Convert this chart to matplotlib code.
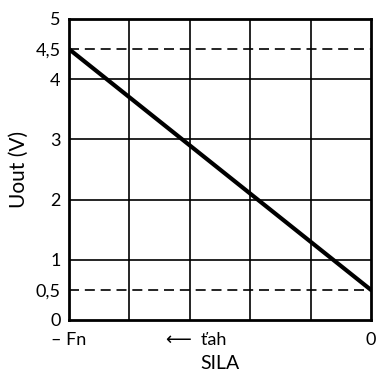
import matplotlib.pyplot as plt

# data
sila = [-5, 0]
uout = [4.5, 0.5]
limity = [0.5, 4.5]
y_ticks = [0, 0.5, 1, 2, 3, 4, 4.5, 5]
y_labels = ['0', '0,5', '1', '2', '3', '4', '4,5', '5']
x_ticks = [-5, -2.9, 0]
x_labels = ['\u2013 Fn', '\u27f5  ťah', '0']

plt.rcParams['font.family'] = ['Lato', 'DejaVu Sans']

fig = plt.figure(figsize=(3.76, 3.76), dpi=100)
ax = fig.add_axes([0.1835, 0.149, 0.803, 0.8005])

# mriezka
for gx in [-4, -3, -2, -1]:
    ax.axvline(gx, color='black', lw=1.2, zorder=1)
for gy in [1, 2, 3, 4]:
    ax.axhline(gy, color='black', lw=1.2, zorder=1)
for ly in limity:
    ax.axhline(ly, color='black', lw=1.2, ls=(0, (6, 3.5)), zorder=1)

ax.plot(sila, uout, color='black', lw=3, solid_capstyle='round', zorder=3)

ax.set_xlim(-5, 0)
ax.set_ylim(0, 5)
ax.set_yticks(y_ticks)
ax.set_yticklabels(y_labels)
ax.set_xticks(x_ticks)
ax.set_xticklabels(x_labels)
ax.tick_params(length=0, labelsize=13)
ax.tick_params(axis='y', pad=6)
ax.tick_params(axis='x', pad=9)
for s in ax.spines.values():
    s.set_linewidth(2)

ax.set_xlabel('SILA', fontsize=14, labelpad=5)
ax.set_ylabel('Uout (V)', fontsize=15, labelpad=5)

fig.savefig('out.png', dpi=100)
